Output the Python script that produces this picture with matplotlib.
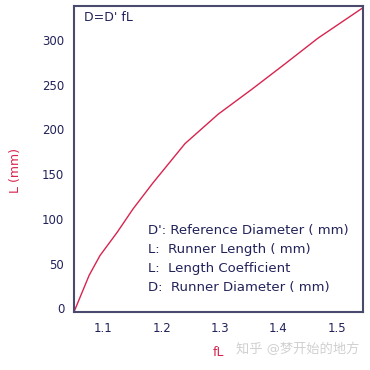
import matplotlib.pyplot as plt
import matplotlib.transforms as mtransforms

plt.rcParams['font.family'] = ['DejaVu Sans', 'Noto Sans CJK SC']

# curve
fL = [1.05, 1.076, 1.0945, 1.124, 1.151, 1.185, 1.240, 1.297, 1.355, 1.411, 1.468, 1.545]
L = [0, 41, 63, 89, 115, 144, 188, 221, 249, 277, 306, 340]

xticks = [1.1, 1.2, 1.3, 1.4, 1.5]
yticks = [0, 50, 100, 150, 200, 250, 300]
notes = ["D': Reference Diameter ( mm)",
         "L:  Runner Length ( mm)",
         "L:  Length Coefficient",
         "D:  Runner Diameter ( mm)"]

navy = '#22225a'
red = '#d8244e'

fig = plt.figure(figsize=(3.7, 3.7), dpi=100)
ax = fig.add_axes([0.2, 0.157, 0.781, 0.827])
ax.plot(fL, L, color=red, lw=1.0)
ax.set_xlim(1.05, 1.545)
ax.set_ylim(0, 342)
ax.set_xticks(xticks)
ax.set_xticklabels([str(t) for t in xticks])
ax.set_yticks(yticks)
ax.tick_params(length=0, labelsize=8.5, labelcolor=navy, pad=7)
# labels in the original sit a little above their gridline value
shift = mtransforms.ScaledTranslation(0, 3.5 / 100, fig.dpi_scale_trans)
for lab in ax.get_yticklabels():
    lab.set_transform(lab.get_transform() + shift)
for s in ax.spines.values():
    s.set_color('#4a4a6e')
    s.set_linewidth(1.5)

ax.text(0.035, 0.985, "D=D' fL", transform=ax.transAxes, fontsize=9,
        color=navy, va='top', ha='left')
for i, t in enumerate(notes):
    ax.text(0.255, 0.265 - i * 0.062, t, transform=ax.transAxes, fontsize=9.5,
            color=navy, va='center', ha='left')

fig.text(0.043, 0.54, 'L (mm)', rotation=90, color=red, fontsize=9,
         ha='center', va='center')
fig.text(0.59, 0.048, 'fL', color=red, fontsize=9, ha='center', va='center')
fig.text(0.805, 0.057, '知乎 @梦开始的地方', color='#d0d0d0', fontsize=9.5,
         ha='center', va='center')

fig.savefig('out.png', dpi=100, facecolor='white')
